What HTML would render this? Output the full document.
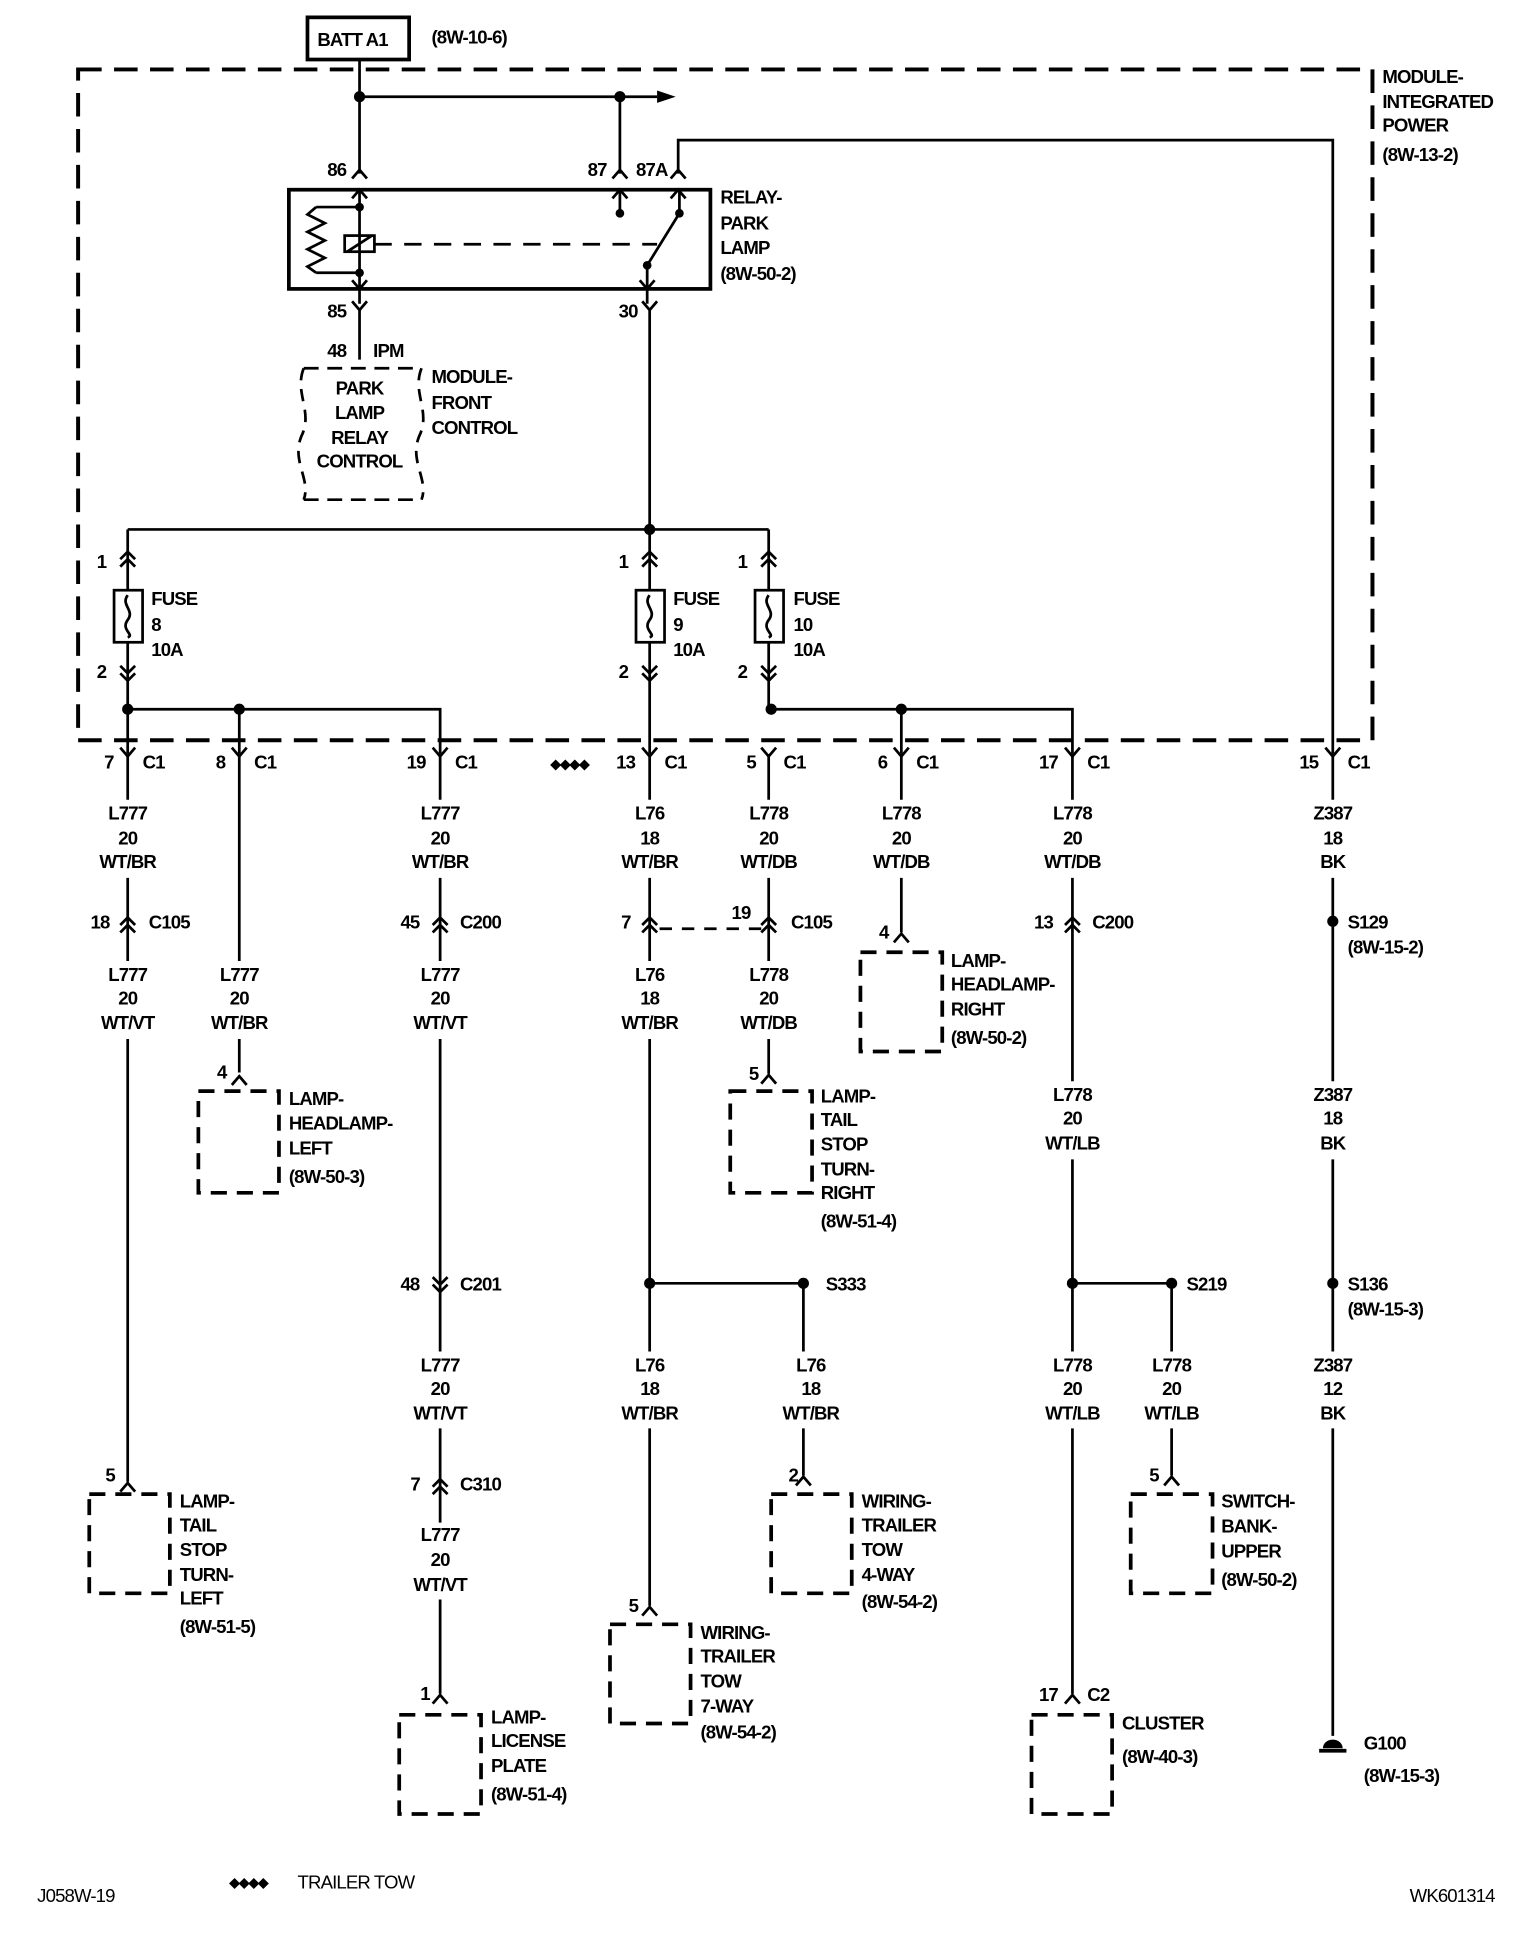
<!DOCTYPE html>
<html><head><meta charset="utf-8"><style>
html,body{margin:0;padding:0;background:#fff}
svg{display:block}
text{font-family:"Liberation Sans Narrow","Liberation Sans",sans-serif;font-size:15px;font-weight:bold;fill:#000;letter-spacing:-0.7px}
.c{text-anchor:middle}
</style></head><body>
<svg width="1520" height="1938" viewBox="0 0 1226 1563" preserveAspectRatio="none" xmlns="http://www.w3.org/2000/svg">
<g fill="none" stroke="#000" stroke-width="2.2">
<rect x="63" y="56" width="1044" height="541" stroke-width="3.2" stroke-dasharray="19,10"/>
<rect x="248" y="14" width="82" height="34" stroke-width="3"/>
<path d="M290 48V140M290 78H530M500 78V140M547 140V113H1075V608"/>
<rect x="233" y="153" width="340" height="80" stroke-width="3"/>
<path d="M290 153V245M255 167H290M255 220H290M255 167l-7 6 14 7-14 7 14 7-14 7 14 7-14 7 7 5"/>
<rect x="278" y="190" width="24" height="13"/><path d="M280 203L300 190"/>
<path d="M302 197H530" stroke-dasharray="14,10"/>
<path d="M500 153V172M548 153V172M522 214L548 172M522 214V245"/>
<path d="M284 144l6-7 6 7M494 144l6-7 6 7M541 144l6-7 6 7M284 160l6-7 6 7M494 160l6-7 6 7M541 160l6-7 6 7M284 226l6 7 6-7M516 226l6 7 6-7M284 243l6 7 6-7M518 243l6 7 6-7"/>
<path d="M290 250V290M524 250V427"/>
<path d="M245 297H340M245 403H340" stroke-dasharray="12,7"/>
<path d="M245 297c-8 20 8 35 -2 55c-8 20 8 35 2 51M340 297c-8 20 8 35 -2 55c-8 20 8 35 2 51" stroke-dasharray="10,7"/>
<path d="M103 427H620M103 427V608M524 427V608M620 427V572M103 572H355V608M193 572V608M622 572H865V608M727 572V608"/>
<rect x="92" y="476" width="23" height="42" fill="#fff"/><path d="M103 480c-6 8 6 12 0 20s6 12 0 14"/>
<rect x="513" y="476" width="23" height="42" fill="#fff"/><path d="M524 480c-6 8 6 12 0 20s6 12 0 14"/>
<rect x="609" y="476" width="23" height="42" fill="#fff"/><path d="M620 480c-6 8 6 12 0 20s6 12 0 14"/>
<path d="M97 451l6-6 6 6M97 457l6-6 6 6M518 451l6-6 6 6M518 457l6-6 6 6M614 451l6-6 6 6M614 457l6-6 6 6"/>
<path d="M97 537l6 6 6-6M97 543l6 6 6-6M518 537l6 6 6-6M518 543l6 6 6-6M614 537l6 6 6-6M614 543l6 6 6-6"/>
<path d="M97 603l6 7 6-7M187 603l6 7 6-7M349 603l6 7 6-7M518 603l6 7 6-7M614 603l6 7 6-7M721 603l6 7 6-7M859 603l6 7 6-7M1069 603l6 7 6-7"/>
<path d="M103 610V645M103 708V775M103 838V1195M193 610V775M193 838V865M355 610V645M355 708V775M355 838V1090M355 1152V1228M355 1290V1366M524 610V645M524 708V775M524 838V1090M524 1152V1295M620 610V645M620 708V775M620 838V866M727 610V645M727 708V752M865 610V645M865 708V872M865 935V1090M865 1152V1366M1075 610V645M1075 708V872M1075 935V1090M1075 1152V1400M524 1035H648V1090M648 1152V1190M865 1035H945V1090M945 1152V1190"/>
<path d="M97 746l6-6 6 6M97 752l6-6 6 6M349 746l6-6 6 6M349 752l6-6 6 6M518 746l6-6 6 6M518 752l6-6 6 6M614 746l6-6 6 6M614 752l6-6 6 6M859 746l6-6 6 6M859 752l6-6 6 6M349 1030l6 6 6-6M349 1036l6 6 6-6M349 1199l6-6 6 6M349 1205l6-6 6 6"/>
<path d="M532 749H614" stroke-dasharray="10,8"/>
<path d="M97 1203l6-7 6 7M187 875l6-7 6 7M349 1374l6-7 6 7M518 1303l6-7 6 7M642 1198l6-7 6 7M614 874l6-7 6 7M721 760l6-7 6 7M859 1374l6-7 6 7M939 1198l6-7 6 7"/>
<g stroke-width="3" stroke-dasharray="13,8">
<rect x="72" y="1205" width="65" height="80"/><rect x="160" y="880" width="65" height="82"/>
<rect x="322" y="1383" width="66" height="80"/><rect x="492" y="1310" width="65" height="80"/>
<rect x="622" y="1205" width="65" height="80"/><rect x="589" y="880" width="66" height="82"/>
<rect x="694" y="768" width="66" height="80"/><rect x="832" y="1383" width="65" height="80"/>
<rect x="912" y="1205" width="66" height="80"/>
</g>
<path d="M1064 1412H1086" stroke-width="3"/>
</g>
<g fill="#000">
<circle cx="290" cy="78" r="4.5"/><circle cx="500" cy="78" r="4.5"/><path d="M530 73l15 5-15 5z"/>
<circle cx="290" cy="167" r="3.5"/><circle cx="290" cy="220" r="3.5"/><circle cx="500" cy="172" r="3.5"/><circle cx="548" cy="172" r="3.5"/><circle cx="522" cy="214" r="3.5"/>
<circle cx="524" cy="427" r="4.5"/><circle cx="103" cy="572" r="4.5"/><circle cx="193" cy="572" r="4.5"/><circle cx="622" cy="572" r="4.5"/><circle cx="727" cy="572" r="4.5"/>
<circle cx="524" cy="1035" r="4.5"/><circle cx="648" cy="1035" r="4.5"/><circle cx="865" cy="1035" r="4.5"/><circle cx="945" cy="1035" r="4.5"/>
<circle cx="1075" cy="743" r="4.5"/><circle cx="1075" cy="1035" r="4.5"/>
<path d="M1067 1410a8 7 0 0 1 16 0z"/>
</g>
<text x="256" y="37">BATT A1</text><text x="348" y="35">(8W-10-6)</text>
<text x="1115" y="67">MODULE-</text><text x="1115" y="87">INTEGRATED</text><text x="1115" y="106">POWER</text><text x="1115" y="130">(8W-13-2)</text>
<text x="264" y="142">86</text><text x="474" y="142">87</text><text x="513" y="142">87A</text>
<text x="581" y="164">RELAY-</text><text x="581" y="185">PARK</text><text x="581" y="205">LAMP</text><text x="581" y="226">(8W-50-2)</text>
<text x="264" y="256">85</text><text x="499" y="256">30</text>
<text x="264" y="288">48</text><text x="301" y="288">IPM</text>
<text class="c" x="290" y="318">PARK</text><text class="c" x="290" y="338">LAMP</text><text class="c" x="290" y="358">RELAY</text><text class="c" x="290" y="377">CONTROL</text>
<text x="348" y="309">MODULE-</text><text x="348" y="330">FRONT</text><text x="348" y="350">CONTROL</text>
<text x="78" y="458">1</text><text x="78" y="547">2</text><text x="499" y="458">1</text><text x="499" y="547">2</text><text x="595" y="458">1</text><text x="595" y="547">2</text>
<text x="122" y="488">FUSE</text><text x="122" y="509">8</text><text x="122" y="529">10A</text>
<text x="543" y="488">FUSE</text><text x="543" y="509">9</text><text x="543" y="529">10A</text>
<text x="640" y="488">FUSE</text><text x="640" y="509">10</text><text x="640" y="529">10A</text>
<text x="84" y="620">7</text><text x="174" y="620">8</text><text x="328" y="620">19</text><text x="497" y="620">13</text><text x="602" y="620">5</text><text x="708" y="620">6</text><text x="838" y="620">17</text><text x="1048" y="620">15</text>
<text x="115" y="620">C1</text><text x="205" y="620">C1</text><text x="367" y="620">C1</text><text x="536" y="620">C1</text><text x="632" y="620">C1</text><text x="739" y="620">C1</text><text x="877" y="620">C1</text><text x="1087" y="620">C1</text>
<text x="444" y="620" style="font-size:11px">◆◆◆◆</text>
<text class="c" x="103" y="661">L777</text><text class="c" x="103" y="681">20</text><text class="c" x="103" y="700">WT/BR</text>
<text class="c" x="355" y="661">L777</text><text class="c" x="355" y="681">20</text><text class="c" x="355" y="700">WT/BR</text>
<text class="c" x="524" y="661">L76</text><text class="c" x="524" y="681">18</text><text class="c" x="524" y="700">WT/BR</text>
<text class="c" x="620" y="661">L778</text><text class="c" x="620" y="681">20</text><text class="c" x="620" y="700">WT/DB</text>
<text class="c" x="727" y="661">L778</text><text class="c" x="727" y="681">20</text><text class="c" x="727" y="700">WT/DB</text>
<text class="c" x="865" y="661">L778</text><text class="c" x="865" y="681">20</text><text class="c" x="865" y="700">WT/DB</text>
<text class="c" x="1075" y="661">Z387</text><text class="c" x="1075" y="681">18</text><text class="c" x="1075" y="700">BK</text>
<text class="c" x="103" y="791">L777</text><text class="c" x="103" y="810">20</text><text class="c" x="103" y="830">WT/VT</text>
<text class="c" x="193" y="791">L777</text><text class="c" x="193" y="810">20</text><text class="c" x="193" y="830">WT/BR</text>
<text class="c" x="355" y="791">L777</text><text class="c" x="355" y="810">20</text><text class="c" x="355" y="830">WT/VT</text>
<text class="c" x="524" y="791">L76</text><text class="c" x="524" y="810">18</text><text class="c" x="524" y="830">WT/BR</text>
<text class="c" x="620" y="791">L778</text><text class="c" x="620" y="810">20</text><text class="c" x="620" y="830">WT/DB</text>
<text class="c" x="865" y="888">L778</text><text class="c" x="865" y="907">20</text><text class="c" x="865" y="927">WT/LB</text>
<text class="c" x="1075" y="888">Z387</text><text class="c" x="1075" y="907">18</text><text class="c" x="1075" y="927">BK</text>
<text class="c" x="355" y="1106">L777</text><text class="c" x="355" y="1125">20</text><text class="c" x="355" y="1145">WT/VT</text>
<text class="c" x="524" y="1106">L76</text><text class="c" x="524" y="1125">18</text><text class="c" x="524" y="1145">WT/BR</text>
<text class="c" x="654" y="1106">L76</text><text class="c" x="654" y="1125">18</text><text class="c" x="654" y="1145">WT/BR</text>
<text class="c" x="865" y="1106">L778</text><text class="c" x="865" y="1125">20</text><text class="c" x="865" y="1145">WT/LB</text>
<text class="c" x="945" y="1106">L778</text><text class="c" x="945" y="1125">20</text><text class="c" x="945" y="1145">WT/LB</text>
<text class="c" x="1075" y="1106">Z387</text><text class="c" x="1075" y="1125">12</text><text class="c" x="1075" y="1145">BK</text>
<text class="c" x="355" y="1243">L777</text><text class="c" x="355" y="1263">20</text><text class="c" x="355" y="1283">WT/VT</text>
<text x="73" y="749">18</text><text x="120" y="749">C105</text>
<text x="323" y="749">45</text><text x="371" y="749">C200</text>
<text x="501" y="749">7</text><text x="590" y="741">19</text><text x="638" y="749">C105</text>
<text x="834" y="749">13</text><text x="881" y="749">C200</text>
<text x="1087" y="749">S129</text><text x="1087" y="769">(8W-15-2)</text>
<text x="323" y="1041">48</text><text x="371" y="1041">C201</text>
<text x="666" y="1041">S333</text><text x="957" y="1041">S219</text>
<text x="1087" y="1041">S136</text><text x="1087" y="1061">(8W-15-3)</text>
<text x="331" y="1202">7</text><text x="371" y="1202">C310</text>
<text x="85" y="1195">5</text><text x="145" y="1216">LAMP-</text><text x="145" y="1235">TAIL</text><text x="145" y="1255">STOP</text><text x="145" y="1275">TURN-</text><text x="145" y="1294">LEFT</text><text x="145" y="1317">(8W-51-5)</text>
<text x="175" y="870">4</text><text x="233" y="891">LAMP-</text><text x="233" y="911">HEADLAMP-</text><text x="233" y="931">LEFT</text><text x="233" y="954">(8W-50-3)</text>
<text x="339" y="1371">1</text><text x="396" y="1390">LAMP-</text><text x="396" y="1409">LICENSE</text><text x="396" y="1429">PLATE</text><text x="396" y="1452">(8W-51-4)</text>
<text x="507" y="1300">5</text><text x="565" y="1322">WIRING-</text><text x="565" y="1341">TRAILER</text><text x="565" y="1361">TOW</text><text x="565" y="1381">7-WAY</text><text x="565" y="1402">(8W-54-2)</text>
<text x="636" y="1195">2</text><text x="695" y="1216">WIRING-</text><text x="695" y="1235">TRAILER</text><text x="695" y="1255">TOW</text><text x="695" y="1275">4-WAY</text><text x="695" y="1297">(8W-54-2)</text>
<text x="604" y="871">5</text><text x="662" y="889">LAMP-</text><text x="662" y="908">TAIL</text><text x="662" y="928">STOP</text><text x="662" y="948">TURN-</text><text x="662" y="967">RIGHT</text><text x="662" y="990">(8W-51-4)</text>
<text x="709" y="757">4</text><text x="767" y="780">LAMP-</text><text x="767" y="799">HEADLAMP-</text><text x="767" y="819">RIGHT</text><text x="767" y="842">(8W-50-2)</text>
<text x="838" y="1372">17</text><text x="877" y="1372">C2</text><text x="905" y="1395">CLUSTER</text><text x="905" y="1422">(8W-40-3)</text>
<text x="927" y="1195">5</text><text x="985" y="1216">SWITCH-</text><text x="985" y="1236">BANK-</text><text x="985" y="1256">UPPER</text><text x="985" y="1279">(8W-50-2)</text>
<text x="1100" y="1411">G100</text><text x="1100" y="1437">(8W-15-3)</text>
<text x="30" y="1534" style="font-weight:normal">J058W-19</text>
<text x="185" y="1522" style="font-size:11px">◆◆◆◆</text><text x="240" y="1523" style="font-weight:normal">TRAILER TOW</text>
<text x="1137" y="1534" style="font-weight:normal">WK601314</text>
</svg>
</body></html>
